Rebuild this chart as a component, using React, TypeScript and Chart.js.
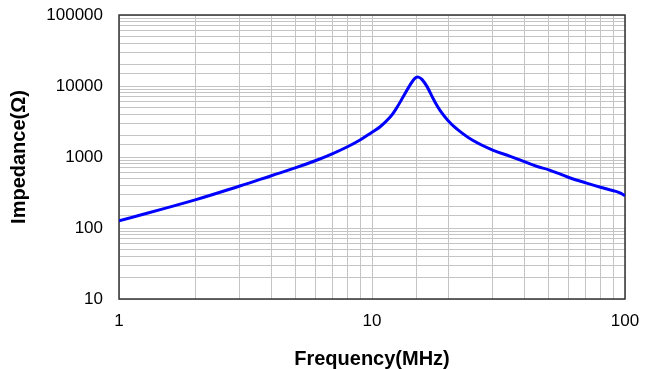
import React, { useEffect, useRef } from 'react';
import { Chart, registerables } from 'chart.js';

Chart.register(...registerables);

const frequencyMHz = [1, 2, 3, 4, 5, 6, 7, 8, 9, 10, 10.8, 11.8, 12.5, 13.3, 14.15, 14.8, 15.25, 15.75, 16.5, 17.5, 18.6, 20, 21.6, 25, 30, 35, 40, 45, 50, 60, 70, 80, 90, 95, 100];
const impedanceOhm = [126, 249, 390, 545, 707, 893, 1117, 1393, 1750, 2230, 2690, 3650, 4880, 7100, 10370, 12880, 13340, 12400, 9800, 6500, 4500, 3250, 2500, 1720, 1250, 1030, 860, 735, 660, 515, 432, 375, 335, 315, 285];
const xTickLabels = [1, 10, 100];
const yTickLabels = [10, 100, 1000, 10000, 100000];
const xTitle = 'Frequency(MHz)';
const yTitle = 'Impedance(Ω)';

const FONT = '"Liberation Sans", Arial, sans-serif';

const frameBox = {
  id: 'frameBox',
  beforeDatasetsDraw(chart: any) {
    const { ctx, chartArea } = chart;
    const { left, top, right, bottom } = chartArea;
    ctx.save();
    ctx.strokeStyle = '#333333';
    ctx.lineWidth = 1.5;
    ctx.strokeRect(left, top, right - left, bottom - top);
    ctx.restore();
  },
};

export default function App() {
  const ref = useRef<HTMLCanvasElement | null>(null);

  useEffect(() => {
    if (!ref.current) return;
    const points = frequencyMHz.map((f, i) => ({ x: f, y: impedanceOhm[i] }));
    const chart = new Chart(ref.current, {
      type: 'line',
      data: {
        datasets: [
          {
            data: points,
            borderColor: '#0000ff',
            borderWidth: 3,
            pointRadius: 0,
            fill: false,
            tension: 0.4,
          },
        ],
      },
      options: {
        responsive: false,
        animation: false,
        events: [],
        layout: { padding: { left: 0, right: 22, top: 15, bottom: 0 } },
        plugins: { legend: { display: false }, tooltip: { enabled: false } },
        scales: {
          x: {
            type: 'logarithmic',
            min: 1,
            max: 100,
            position: 'bottom',
            grid: { color: '#c4c4c4', lineWidth: 1, drawTicks: false },
            border: { display: false },
            ticks: {
              autoSkip: false,
              maxRotation: 0,
              padding: 12,
              color: '#000',
              font: { family: FONT, size: 17 },
              callback: (v: any) => (xTickLabels.includes(Number(v)) ? String(v) : ''),
            },
            title: {
              display: true,
              text: xTitle,
              color: '#000',
              font: { family: FONT, size: 20, weight: 'bold' },
              padding: { top: 0, bottom: -2 },
            },
            afterFit: (s: any) => {
              s.height = 70;
              s.paddingLeft = 0;
              s.paddingRight = 0;
            },
          },
          y: {
            type: 'logarithmic',
            min: 10,
            max: 100000,
            grid: { color: '#c4c4c4', lineWidth: 1, drawTicks: false },
            border: { display: false },
            ticks: {
              autoSkip: false,
              padding: 16,
              color: '#000',
              font: { family: FONT, size: 17 },
              callback: (v: any) => (yTickLabels.includes(Number(v)) ? String(v) : ''),
            },
            title: {
              display: true,
              text: yTitle,
              color: '#000',
              font: { family: FONT, size: 20, weight: 'bold' },
              padding: { top: 7, bottom: 0 },
            },
            afterFit: (s: any) => {
              s.width = 119;
              s.paddingTop = 0;
              s.paddingBottom = 0;
            },
          },
        },
      },
      plugins: [frameBox],
    } as any);
    return () => chart.destroy();
  }, []);

  return (
    <div style={{ position: 'fixed', left: 0, top: 0, width: 647, height: 369, background: '#fff' }}>
      <canvas ref={ref} width={647} height={369} style={{ display: 'block' }} />
    </div>
  );
}
